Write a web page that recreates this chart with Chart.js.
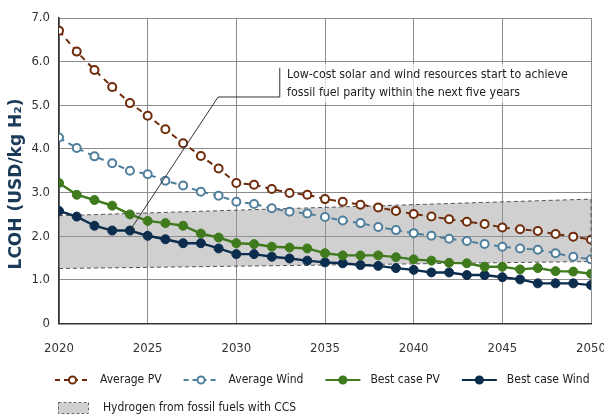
<!DOCTYPE html>
<html>
<head>
<meta charset="utf-8">
<script src="https://cdn.jsdelivr.net/npm/chart.js@4.4.1/dist/chart.umd.min.js"></script>
<style>
  html, body { margin: 0; padding: 0; background: #fff; }
  #wrap { width: 604px; height: 416px; }
</style>
</head>
<body>
<div id="wrap"><canvas id="lcoh" width="604" height="416"></canvas></div>
<script>
// values (USD/kg H2)
const years = [2020, 2021, 2022, 2023, 2024, 2025, 2026, 2027, 2028, 2029,
  2030, 2031, 2032, 2033, 2034, 2035, 2036, 2037, 2038, 2039,
  2040, 2041, 2042, 2043, 2044, 2045, 2046, 2047, 2048, 2049, 2050];
const averagePV = [6.71, 6.23, 5.81, 5.42, 5.05, 4.76, 4.45, 4.13, 3.84, 3.55,
  3.22, 3.18, 3.08, 2.99, 2.95, 2.85, 2.79, 2.72, 2.66, 2.58,
  2.51, 2.45, 2.39, 2.33, 2.28, 2.20, 2.16, 2.12, 2.05, 1.99, 1.92];
const averageWind = [4.26, 4.02, 3.83, 3.67, 3.50, 3.42, 3.27, 3.16, 3.02, 2.93,
  2.79, 2.74, 2.64, 2.56, 2.52, 2.44, 2.36, 2.30, 2.21, 2.14,
  2.07, 2.01, 1.94, 1.89, 1.82, 1.76, 1.72, 1.69, 1.61, 1.53, 1.47];
const bestPV = [3.22, 2.95, 2.83, 2.70, 2.50, 2.35, 2.30, 2.24, 2.06, 1.97,
  1.84, 1.82, 1.76, 1.74, 1.72, 1.61, 1.56, 1.56, 1.56, 1.52,
  1.47, 1.44, 1.39, 1.38, 1.30, 1.30, 1.24, 1.27, 1.20, 1.19, 1.14];
const bestWind = [2.58, 2.45, 2.24, 2.13, 2.13, 2.01, 1.93, 1.84, 1.84, 1.72,
  1.59, 1.59, 1.53, 1.49, 1.44, 1.40, 1.38, 1.34, 1.32, 1.27,
  1.23, 1.17, 1.17, 1.11, 1.11, 1.06, 1.01, 0.92, 0.92, 0.92, 0.88];
// fossil + CCS band, straight edges
const bandYears = [2020, 2050];
const bandLow = [1.26, 1.42];
const bandHigh = [2.47, 2.85];
const yTicks = [0, 1, 2, 3, 4, 5, 6, 7];

const noteLines = ["Low-cost solar and wind resources start to achieve",
  "fossil fuel parity within the next five years"];
const noteYear = 2024; // the best case PV point the note points at
const yTitle = "LCOH (USD/kg H\u2082)";

const NARROW = '"Liberation Sans Narrow", "DejaVu Sans Condensed", sans-serif';
const C_PV = "#6e2c0b", C_WIND = "#4f7f9c", C_BPV = "#3f7b1d", C_BWIND = "#0c2d4e";

function pts(xs, ys) { return xs.map((x, i) => ({ x: x, y: ys[i] })); }

const extras = {
  id: "extras",
  afterDatasetsDraw(chart) {
    const ctx = chart.ctx, xs = chart.scales.x, ys = chart.scales.y;
    ctx.save();
    // right edge of the band
    ctx.strokeStyle = "#555"; ctx.lineWidth = 1; ctx.setLineDash([4, 3]);
    const bx = xs.getPixelForValue(bandYears[1]);
    ctx.beginPath();
    ctx.moveTo(bx, ys.getPixelForValue(bandHigh[1]));
    ctx.lineTo(bx, ys.getPixelForValue(bandLow[1]));
    ctx.stroke();
    ctx.setLineDash([]);

    // annotation box + leader
    ctx.fillStyle = "rgba(255,255,255,0.72)";
    const bl = xs.getPixelForValue(2032.45), br = xs.getPixelForValue(2047.6);
    const bt = ys.getPixelForValue(5.95), bb = ys.getPixelForValue(5.06);
    ctx.fillRect(bl, bt, br - bl, bb - bt);
    const tgt = chart.getDatasetMeta(3).data[years.indexOf(noteYear)];
    const vTop = ys.getPixelForValue(5.86), vBot = ys.getPixelForValue(5.19);
    const hx = xs.getPixelForValue(2028.97);
    ctx.strokeStyle = "#333"; ctx.lineWidth = 1;
    ctx.beginPath();
    ctx.moveTo(bl, vTop); ctx.lineTo(bl, vBot); ctx.lineTo(hx, vBot);
    ctx.lineTo(tgt.x, tgt.y);
    ctx.stroke();
    ctx.fillStyle = "#222"; ctx.font = "12.3px " + NARROW;
    ctx.textBaseline = "middle"; ctx.textAlign = "left";
    const tx = xs.getPixelForValue(2032.86);
    ctx.fillText(noteLines[0], tx, ys.getPixelForValue(5.70));
    ctx.fillText(noteLines[1], tx, ys.getPixelForValue(5.29));
    ctx.restore();
  },
  afterDraw(chart) {
    const ctx = chart.ctx;
    ctx.save();
    // y title
    ctx.translate(17, 184);
    ctx.rotate(-Math.PI / 2);
    ctx.fillStyle = "#1b3a57";
    ctx.font = "bold 17px 'DejaVu Sans', sans-serif";
    ctx.textAlign = "center"; ctx.textBaseline = "middle";
    ctx.fillText(yTitle, 0, 0);
    ctx.restore();

    // legend
    ctx.save();
    ctx.font = "12px " + NARROW;
    ctx.textBaseline = "middle"; ctx.textAlign = "left";
    let x = 55;
    const row1 = 380;
    chart.data.datasets.forEach(ds => {
      if (!ds.legendRow) return;
      const y = ds.legendRow === 1 ? row1 : 408;
      const sx = ds.legendRow === 1 ? x : 58;
      if (ds.legendRow === 1) {
        ctx.strokeStyle = ds.borderColor; ctx.lineWidth = 2;
        ctx.setLineDash(ds.borderDash.length ? [5, 4] : []);
        ctx.beginPath(); ctx.moveTo(sx, y); ctx.lineTo(sx + 35, y); ctx.stroke();
        ctx.setLineDash([]);
        ctx.beginPath(); ctx.arc(sx + 17.5, y, 3.6, 0, Math.PI * 2);
        ctx.fillStyle = ds.pointBackgroundColor; ctx.fill();
        ctx.lineWidth = 2; ctx.strokeStyle = ds.borderColor; ctx.stroke();
      } else {
        ctx.fillStyle = "#d0d0d0"; ctx.fillRect(sx, y - 5, 30, 10);
        ctx.strokeStyle = "#666"; ctx.lineWidth = 1; ctx.setLineDash([3, 2]);
        ctx.strokeRect(sx + 0.5, y - 5.5, 30, 11);
        ctx.setLineDash([]);
      }
      ctx.fillStyle = "#222";
      ctx.fillText(ds.label, sx + 45, y);
      if (ds.legendRow === 1) x = sx + 45 + ctx.measureText(ds.label).width + 22;
    });
    ctx.restore();
  }
};

const lineDs = (label, values, color, open) => ({
  label: label,
  data: pts(years, values),
  borderColor: color,
  borderWidth: open ? 2 : 2.4,
  borderDash: open ? [6, 5] : [],
  pointRadius: open ? 4 : 4.5,
  pointBorderWidth: open ? 2 : 1,
  pointBackgroundColor: open ? "#fff" : color,
  pointBorderColor: color,
  fill: false,
  order: 0,
  legendRow: 1
});

new Chart(document.getElementById("lcoh"), {
  type: "line",
  data: {
    datasets: [
      lineDs("Average PV", averagePV, C_PV, true),
      lineDs("Average Wind", averageWind, C_WIND, true),
      lineDs("Best case PV", bestPV, C_BPV, false),
      lineDs("Best case Wind", bestWind, C_BWIND, false),
      {
        label: "band low",
        data: pts(bandYears, bandLow),
        borderColor: "#555", borderWidth: 1, borderDash: [4, 3],
        pointRadius: 0, fill: false, order: 10
      },
      {
        label: "Hydrogen from fossil fuels with CCS",
        data: pts(bandYears, bandHigh),
        borderColor: "#555", borderWidth: 1, borderDash: [4, 3],
        pointRadius: 0, fill: "-1", backgroundColor: "rgba(150,150,150,0.45)",
        order: 10, legendRow: 2
      }
    ]
  },
  options: {
    responsive: false,
    animation: false,
    layout: { padding: { top: 18, right: 13, left: 0, bottom: 0 } },
    plugins: { legend: { display: false }, tooltip: { enabled: false } },
    scales: {
      x: {
        type: "linear", min: 2020, max: 2050,
        afterFit: s => { s.height = 92.5; s.paddingLeft = 0; s.paddingRight = 0; },
        grid: { color: "#8c8c8c", lineWidth: 1, drawTicks: false },
        border: { color: "#333", width: 1.5 },
        ticks: {
          stepSize: 5, padding: 17, color: "#333",
          font: { family: NARROW, size: 13 },
          callback: v => String(v)
        }
      },
      y: {
        min: 0, max: 7,
        afterFit: s => { s.width = 59; },
        afterBuildTicks: s => { s.ticks = yTicks.map(v => ({ value: v })); },
        grid: { color: "#8c8c8c", lineWidth: 1, drawTicks: false },
        border: { color: "#333", width: 1.5 },
        ticks: {
          padding: 9, color: "#333",
          font: { family: NARROW, size: 13 },
          callback: v => v === 0 ? "0" : v.toFixed(1)
        }
      }
    }
  },
  plugins: [extras]
});
</script>
</body>
</html>
